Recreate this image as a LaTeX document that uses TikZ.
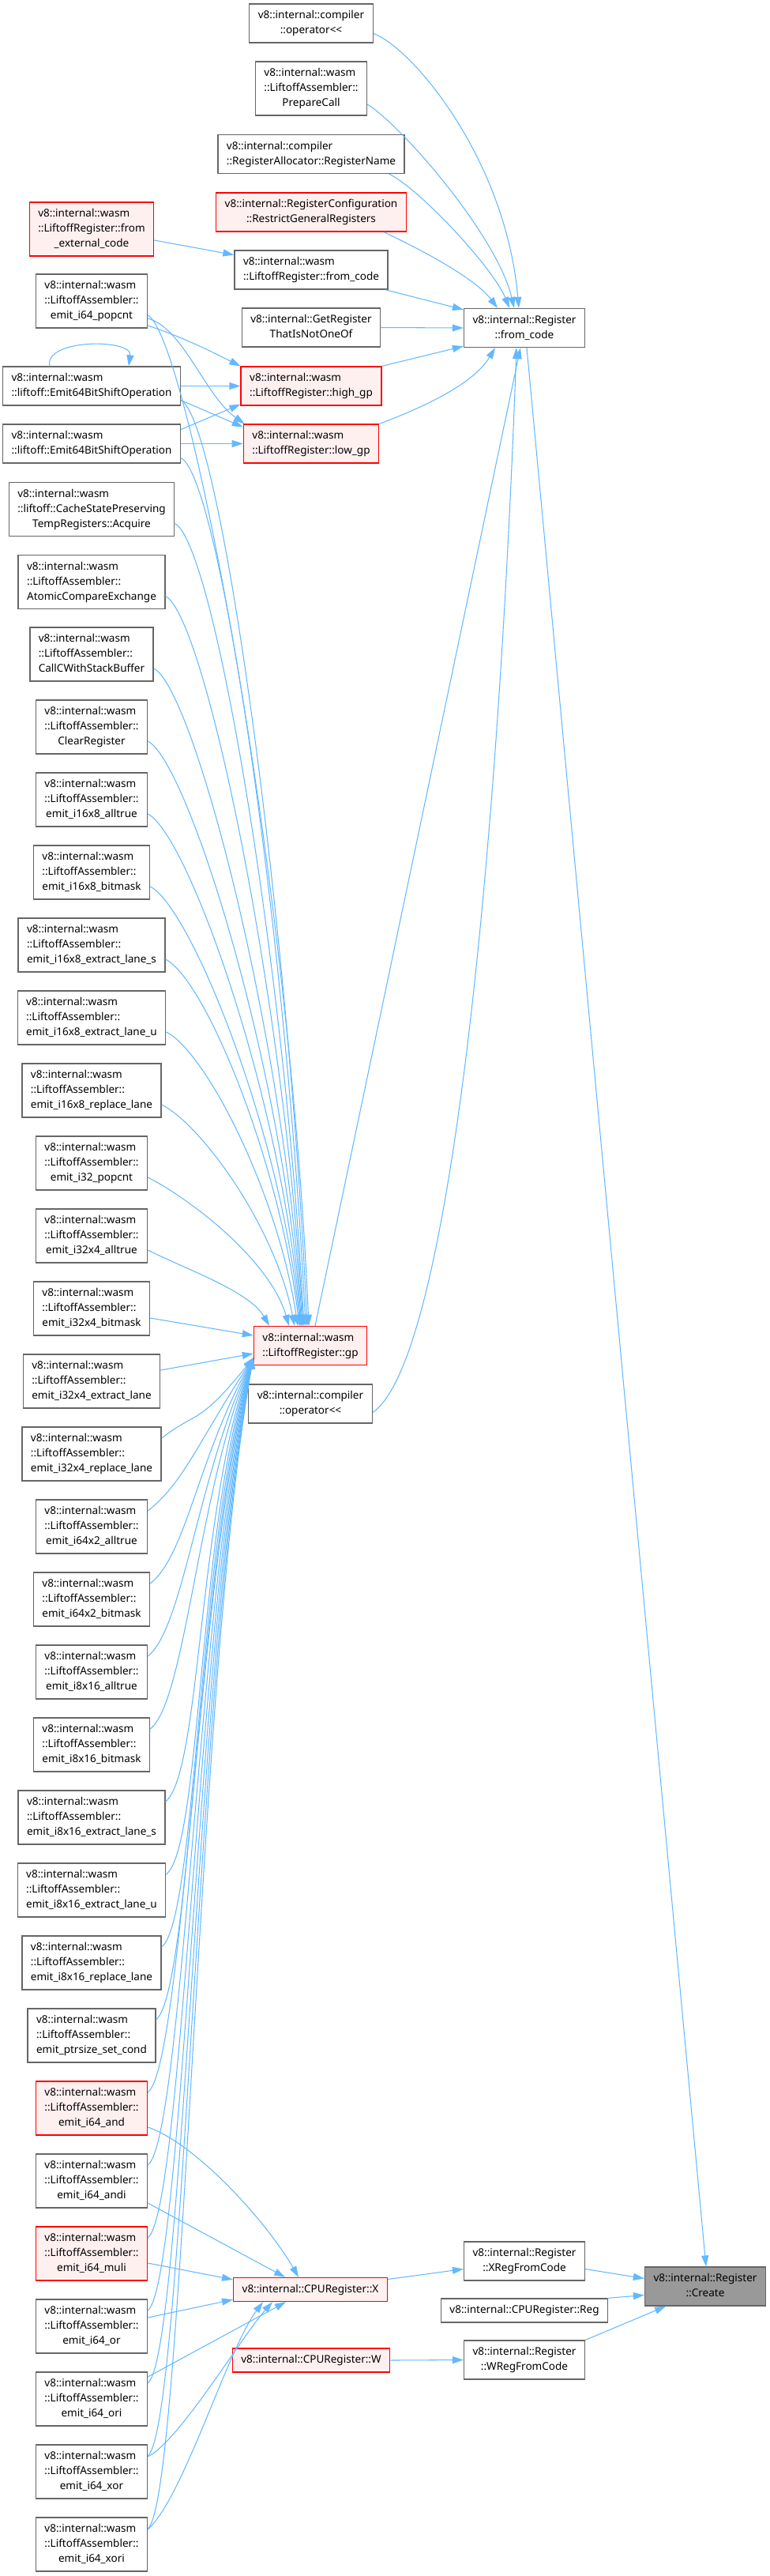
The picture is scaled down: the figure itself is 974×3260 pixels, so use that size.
\documentclass[tikz,border=0pt]{standalone}
\usepackage{fontspec}
\setmainfont{Noto Sans}
\usetikzlibrary{arrows.meta}
\definecolor{edgeblue}{HTML}{63B8FF}
\definecolor{boxgray}{HTML}{666666}
\definecolor{boxred}{HTML}{FF0000}
\definecolor{fillred}{HTML}{FFF0F0}
\definecolor{fillroot}{HTML}{999999}
% label: left aligned first lines, centred last line
\newcommand{\fnlabel}[2]{\begin{tabular}{@{}l@{}}#1\\\multicolumn{1}{@{}c@{}}{#2}\end{tabular}}
\newcommand{\fnline}[1]{\begin{tabular}{@{}c@{}}#1\end{tabular}}
\newcommand{\lasm}{v8::internal::wasm\\::LiftoffAssembler::}
\tikzset{
  fn/.style={draw=boxgray, fill=white, line width=0.75pt, inner xsep=0.22cm, inner ysep=0.11cm,
    font=\fontsize{7.7}{10.8}\selectfont},
  fnred/.style={fn, draw=boxred, fill=fillred},
  fnroot/.style={fn, fill=fillroot},
  callarrow/.style={draw=edgeblue, line width=0.6pt, -{Triangle[length=0.28cm,width=0.18cm]}},
}
\begin{document}
\begin{tikzpicture}[x=0.02cm, y=-0.02cm]
\useasboundingbox (0,0) rectangle (974,3260);
% middle column
\node[fn] (opTop) at (394,29.5) {\fnlabel{v8::internal::compiler}{::operator<{}<}};
\node[fn] (prepare) at (394,112) {\fnlabel{\lasm}{PrepareCall}};
\node[fn] (regname) at (394,195) {\fnlabel{v8::internal::compiler}{::RegisterAllocator::RegisterName}};
\node[fnred] (restrict) at (394,268.5) {\fnlabel{v8::internal::RegisterConfiguration}{::RestrictGeneralRegisters}};
\node[fn] (lrfromcode) at (394,341.5) {\fnlabel{v8::internal::wasm}{::LiftoffRegister::from\_code}};
\node[fn] (getreg) at (394,414.5) {\fnlabel{v8::internal::GetRegister}{ThatIsNotOneOf}};
\node[fnred] (highgp) at (394,488.5) {\fnlabel{v8::internal::wasm}{::LiftoffRegister::high\_gp}};
\node[fnred] (lowgp) at (394,561.5) {\fnlabel{v8::internal::wasm}{::LiftoffRegister::low\_gp}};
\node[fnred] (gp) at (393,1703) {\fnlabel{v8::internal::wasm}{::LiftoffRegister::gp}};
\node[fn] (opBottom) at (393,1776.5) {\fnlabel{v8::internal::compiler}{::operator<{}<}};
\node[fnred] (X) at (393,2897.5) {\fnline{v8::internal::CPURegister::X}};
\node[fnred] (W) at (394,2987) {\fnline{v8::internal::CPURegister::W}};
% right columns
\node[fn] (regfromcode) at (664,415) {\fnlabel{v8::internal::Register}{::from\_code}};
\node[fn] (xreg) at (664,2861.5) {\fnlabel{v8::internal::Register}{::XRegFromCode}};
\node[fn] (reg) at (664,2924) {\fnline{v8::internal::CPURegister::Reg}};
\node[fn] (wreg) at (664,2986.5) {\fnlabel{v8::internal::Register}{::WRegFromCode}};
\node[fnroot] (create) at (893,2893.5) {\fnlabel{v8::internal::Register}{::Create}};
% left column
\node[fnred] (fromext) at (116,290) {\fnlabel{v8::internal::wasm\\::LiftoffRegister::from}{\_external\_code}};
\node[fn] (shiftA) at (116,488.5) {\fnlabel{v8::internal::wasm}{::liftoff::Emit64BitShiftOperation}};
\node[fn] (shiftB) at (116,561.5) {\fnlabel{v8::internal::wasm}{::liftoff::Emit64BitShiftOperation}};
\node[fn] (acquire) at (116,644.5) {\fnlabel{v8::internal::wasm\\::liftoff::CacheStatePreserving}{TempRegisters::Acquire}};
\foreach \name/\yc/\last/\sty in {
  popcnt/381/emit\_i64\_popcnt/fn,
  atomic/736.5/AtomicCompareExchange/fn,
  callc/828/CallCWithStackBuffer/fn,
  clearreg/920/ClearRegister/fn,
  i16alltrue/1012/emit\_i16x8\_alltrue/fn,
  i16bitmask/1104/emit\_i16x8\_bitmask/fn,
  i16extracts/1196/emit\_i16x8\_extract\_lane\_s/fn,
  i16extractu/1288/emit\_i16x8\_extract\_lane\_u/fn,
  i16replace/1380/emit\_i16x8\_replace\_lane/fn,
  i32popcnt/1472/emit\_i32\_popcnt/fn,
  i32alltrue/1564/emit\_i32x4\_alltrue/fn,
  i32bitmask/1656/emit\_i32x4\_bitmask/fn,
  i32extract/1748/emit\_i32x4\_extract\_lane/fn,
  i32replace/1840/emit\_i32x4\_replace\_lane/fn,
  i64alltrue/1932/emit\_i64x2\_alltrue/fn,
  i64bitmask/2024/emit\_i64x2\_bitmask/fn,
  i8alltrue/2116/emit\_i8x16\_alltrue/fn,
  i8bitmask/2208/emit\_i8x16\_bitmask/fn,
  i8extracts/2300/emit\_i8x16\_extract\_lane\_s/fn,
  i8extractu/2392/emit\_i8x16\_extract\_lane\_u/fn,
  i8replace/2484/emit\_i8x16\_replace\_lane/fn,
  ptrsize/2576/emit\_ptrsize\_set\_cond/fn,
  i64and/2668/emit\_i64\_and/fnred,
  i64andi/2760/emit\_i64\_andi/fn,
  i64muli/2852/emit\_i64\_muli/fnred,
  i64or/2944/emit\_i64\_or/fn,
  i64ori/3036/emit\_i64\_ori/fn,
  i64xor/3128/emit\_i64\_xor/fn,
  i64xori/3220/emit\_i64\_xori/fn}
  \node[\sty] (\name) at (116,\yc) {\fnlabel{\lasm}{\last}};

% callers of Register::from_code
\draw[callarrow] ([yshift=-0.26cm]opTop.east) .. controls +(48,17) and +(-17,-190) .. ([xshift=-0.14cm]regfromcode.north);
\draw[callarrow] ([yshift=-0.4cm]prepare.east) .. controls +(45,28) and +(-21,-90) .. ([xshift=-0.26cm]regfromcode.north);
\draw[callarrow] ([xshift=-0.4cm]regname.south east) .. controls +(40,20) and +(-20,-50) .. ([xshift=-0.38cm]regfromcode.north);
\draw[callarrow] ([xshift=-0.58cm]restrict.south east) .. controls +(36,17) and +(-30,-40) .. ([xshift=-0.68cm]regfromcode.north);
\draw[callarrow] ([xshift=-0.08cm]lrfromcode.south east) -- ([yshift=-0.04cm]regfromcode.north west);
\draw[callarrow] (getreg.east) -- (regfromcode.west);
\draw[callarrow] (highgp.north east) -- ([yshift=0.04cm]regfromcode.south west);
\draw[callarrow] (lowgp.north east) .. controls +(40,-15) and +(-30,50) .. ([xshift=-0.74cm]regfromcode.south);
\draw[callarrow] ([xshift=0.12cm]gp.north) -- ([xshift=-0.1cm]regfromcode.south);
\draw[callarrow] ([yshift=-0.22cm]opBottom.east) .. controls +(96,-65) and +(-24,661) .. ([xshift=-0.2cm]regfromcode.south);
\draw[callarrow] ([xshift=0.06cm]regfromcode.south) -- ([xshift=0.02cm]create.north);
\draw[callarrow] ([yshift=-0.28cm]fromext.east) -- ([yshift=0.38cm]lrfromcode.west);

% high_gp / low_gp
\draw[callarrow] ([yshift=-0.62cm]popcnt.east) .. controls +(45,15) and +(-40,-20) .. (highgp.north west);
\draw[callarrow] ([yshift=-0.44cm]popcnt.east) .. controls +(45,12) and +(-50,-35) .. ([xshift=0.04cm]lowgp.north west);
\draw[callarrow] (shiftA.east) -- (highgp.west);
\draw[callarrow] ([yshift=-0.36cm]shiftA.east) -- ([yshift=-0.08cm]lowgp.north west);
\draw[callarrow] ([yshift=0.36cm]shiftB.east) -- ([yshift=0.04cm]highgp.south west);
\draw[callarrow] (shiftB.east) -- (lowgp.west);
\draw[callarrow] ([xshift=-1.06cm]shiftA.north) .. controls +(-8,-35) and +(5,-35) .. ([xshift=0.94cm]shiftA.north);

% callers of gp from above
\foreach \src/\yc/\dx in {popcnt/381/-2, shiftA/488.5/-4, shiftB/561.5/-6, acquire/644.5/-8,
  atomic/736.5/-9, callc/828/-10, clearreg/920/-11, i16alltrue/1012/-12, i16bitmask/1104/-13,
  i16extracts/1196/-14, i16extractu/1288/-16, i16replace/1380/-20, i32popcnt/1472/-27,
  i32alltrue/1564/-52}{
  \pgfmathsetmacro{\k}{0.45*(1661-\yc)}
  \draw[callarrow] ([yshift=-0.36cm]\src.east) .. controls +(50,25) and +(-25,-\k) .. ([xshift=\dx*0.02cm]gp.north);
}
\draw[callarrow] ([yshift=-0.24cm]i32bitmask.east) -- ([yshift=0.26cm]gp.west);
\draw[callarrow] ([yshift=0.28cm]i32extract.east) -- ([yshift=-0.2cm]gp.west);
% callers of gp from below
\foreach \src/\yc in {i32replace/1840, i64alltrue/1932, i64bitmask/2024, i8alltrue/2116,
  i8bitmask/2208, i8extracts/2300, i8extractu/2392, i8replace/2484, ptrsize/2576,
  i64and/2668, i64andi/2760, i64muli/2852, i64or/2944, i64ori/3036, i64xor/3128, i64xori/3220}{
  \pgfmathsetmacro{\k}{60+0.22*(\yc-1718)}
  \draw[callarrow] ([yshift=0.4cm]\src.east) .. controls +(45,-35) and +(-70,\k) .. ([yshift=0.2cm]gp.south west);
}

% callers of CPURegister::X
\draw[callarrow] ([yshift=-0.48cm]i64and.east) .. controls +(60,20) and +(-40,-70) .. ([xshift=-0.3cm]X.north);
\draw[callarrow] ([yshift=-0.56cm]i64andi.east) -- ([xshift=-0.64cm]X.north);
\draw[callarrow] ([yshift=-0.24cm]i64muli.east) -- ([yshift=-0.06cm]X.north west);
\draw[callarrow] ([yshift=0.22cm]i64or.east) -- ([yshift=0.06cm]X.south west);
\draw[callarrow] ([yshift=0.56cm]i64ori.east) -- ([xshift=-0.62cm]X.south);
\draw[callarrow] ([yshift=0.38cm]i64xor.east) .. controls +(40,-20) and +(-40,45) .. ([xshift=-0.96cm]X.south);
\draw[callarrow] ([yshift=0.38cm]i64xori.east) .. controls +(45,-40) and +(-45,60) .. ([xshift=-1.2cm]X.south);

% towards Register::Create
\draw[callarrow] ([yshift=0.26cm]X.east) -- ([yshift=-0.2cm]xreg.west);
\draw[callarrow] (W.east) -- (wreg.west);
\draw[callarrow] ([yshift=-0.2cm]xreg.east) -- ([yshift=0.2cm]create.west);
\draw[callarrow] ([xshift=-0.02cm]reg.north east) -- ([yshift=-0.22cm]create.west);
\draw[callarrow] (wreg.north east) -- ([xshift=-1.0cm]create.south);
\end{tikzpicture}
\end{document}
